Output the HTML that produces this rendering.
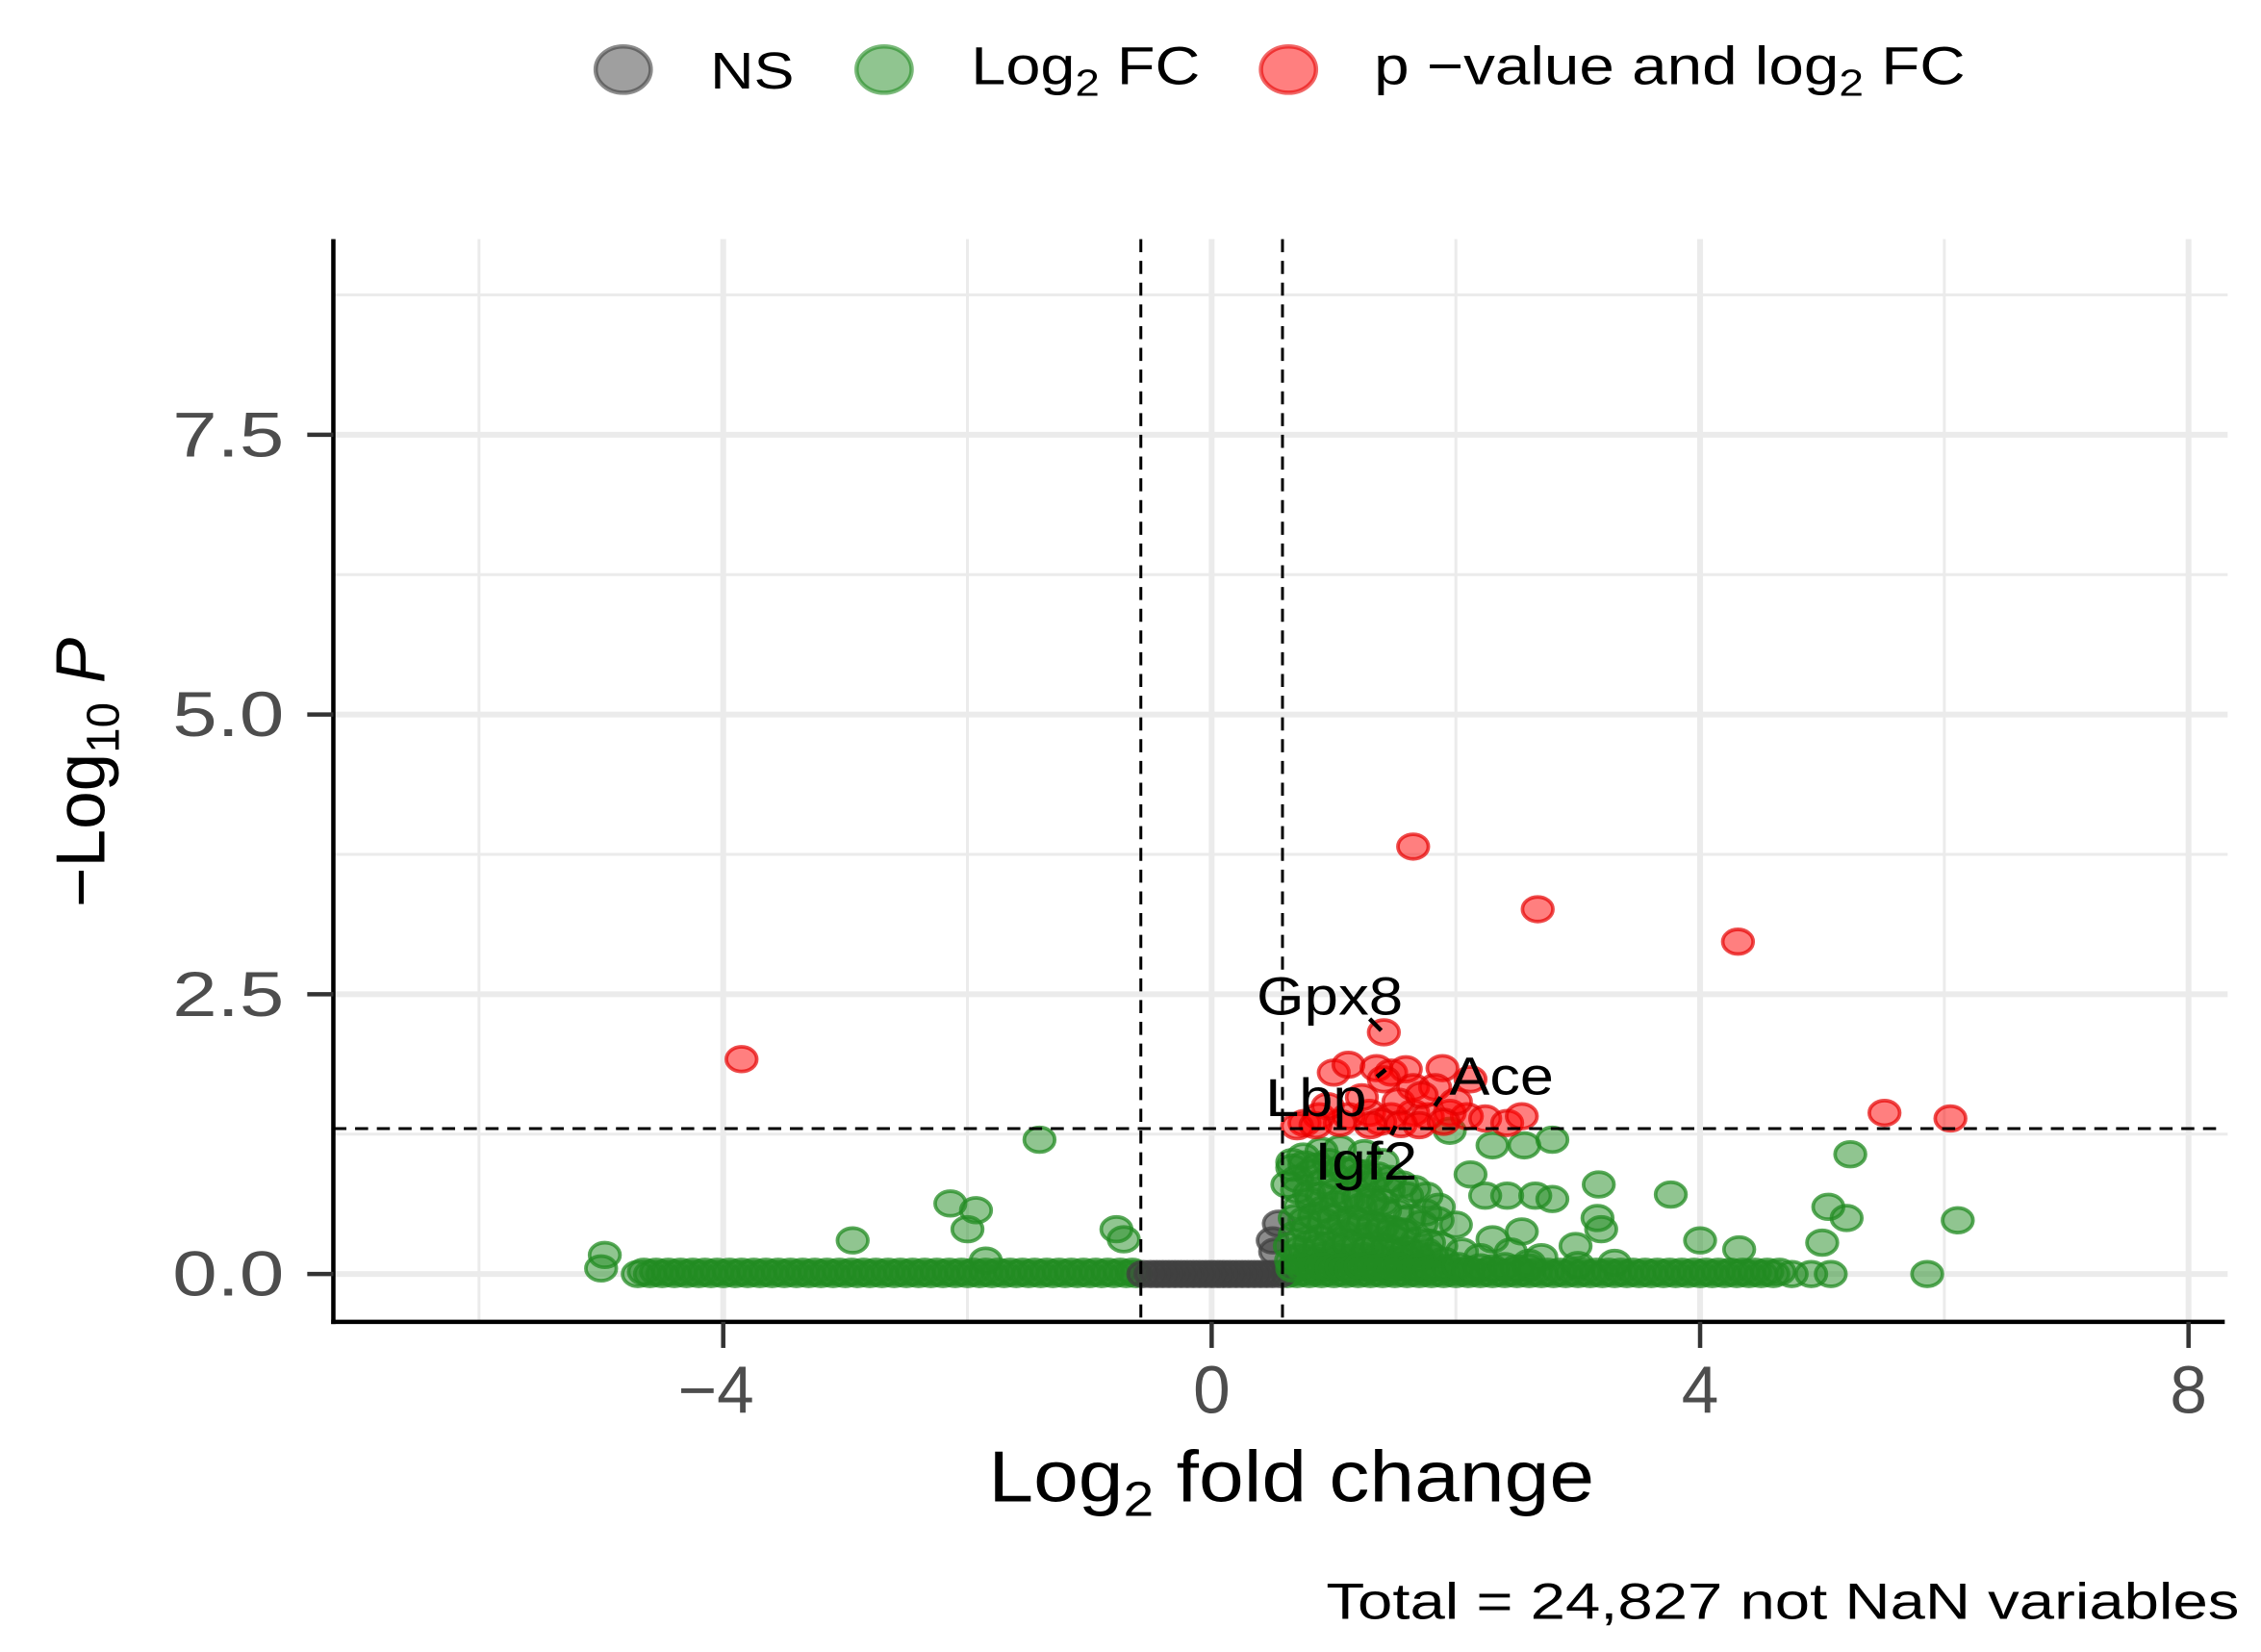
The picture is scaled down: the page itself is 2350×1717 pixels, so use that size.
<!DOCTYPE html>
<html><head><meta charset="utf-8"><style>
html,body{margin:0;padding:0;background:#fff}
svg{display:block}
text{font-family:"Liberation Sans",Arial,sans-serif}
</style></head><body>
<svg id="chart" width="2350" height="1717" viewBox="0 0 1560 1139.8" preserveAspectRatio="none" xmlns="http://www.w3.org/2000/svg">
<g id="grid"></g>
<g id="pts"></g>
<g id="axes"></g>
<g>
 <ellipse cx="430" cy="48" rx="19" ry="16" fill="rgba(64,64,64,0.5)" stroke="rgba(64,64,64,0.6)" stroke-width="3"/>
 <text x="490" y="61" font-size="36" textLength="58" lengthAdjust="spacingAndGlyphs">NS</text>
 <ellipse cx="610" cy="48" rx="19" ry="16" fill="rgba(34,139,34,0.5)" stroke="rgba(34,139,34,0.6)" stroke-width="3"/>
 <text x="670" y="58" font-size="37" textLength="158" lengthAdjust="spacingAndGlyphs">Log<tspan font-size="26" dy="8">2</tspan><tspan dy="-8"> FC</tspan></text>
 <ellipse cx="889" cy="48" rx="19" ry="16" fill="rgba(255,0,0,0.5)" stroke="rgba(230,0,0,0.6)" stroke-width="3"/>
 <text x="948" y="58" font-size="37" textLength="408" lengthAdjust="spacingAndGlyphs">p −value and log<tspan font-size="26" dy="8">2</tspan><tspan dy="-8"> FC</tspan></text>
</g>
<text x="682" y="1036" font-size="50" textLength="418" lengthAdjust="spacingAndGlyphs">Log<tspan font-size="34" dy="10">2</tspan><tspan dy="-10"> fold change</tspan></text>
<text transform="translate(72,626) rotate(-90)" font-size="48" textLength="186" lengthAdjust="spacingAndGlyphs">−Log<tspan font-size="32" dy="10">10</tspan><tspan dy="-10" font-style="italic"> P</tspan></text>
<text x="915" y="1117" font-size="35" textLength="630" lengthAdjust="spacingAndGlyphs">Total = 24,827 not NaN variables</text>
<g font-size="37">
 <text x="867" y="700" textLength="101" lengthAdjust="spacingAndGlyphs">Gpx8</text>
 <line x1="945" y1="703" x2="953" y2="711" stroke="#000" stroke-width="3"/>
 <text x="873" y="770" textLength="70" lengthAdjust="spacingAndGlyphs">Lbp</text>
 <line x1="950" y1="743" x2="956" y2="738" stroke="#000" stroke-width="3"/>
 <text x="1000" y="755" textLength="72" lengthAdjust="spacingAndGlyphs">Ace</text>
 <line x1="990" y1="763" x2="994" y2="757" stroke="#000" stroke-width="3"/>
 <text x="907" y="814" textLength="71" lengthAdjust="spacingAndGlyphs">Igf2</text>
 <line x1="960" y1="783" x2="963" y2="777" stroke="#000" stroke-width="3"/>
</g>
</svg>
<script>
const xTicks = [-4, 0, 4, 8];
const xTickLabels = ["−4", "0", "4", "8"];
const xMinor = [-6, -2, 2, 6];
const yTicks = [0, 2.5, 5, 7.5];
const yTickLabels = ["0.0", "2.5", "5.0", "7.5"];
const yMinor = [1.25, 3.75, 6.25, 8.75];
const fcCut = 0.58;
const pCut = 1.3;

const redX = [1.65,2.67,4.31,-3.85,5.51,6.05,1.41,1.0,1.12,1.35,1.47,1.59,1.89,1.41,1.65,1.83,0.76,0.88,1.12,1.29,1.47,1.65,1.77,1.95,2.09,2.24,2.42,2.54,2.0,1.53,1.23,2.12,1.05,1.38,0.95,1.72,0.7,1.55,1.3,1.7,1.9,0.85];
const redY = [3.82,3.26,2.97,1.92,1.44,1.39,2.16,1.8,1.87,1.84,1.8,1.83,1.84,1.74,1.67,1.67,1.35,1.41,1.41,1.44,1.41,1.44,1.41,1.44,1.41,1.39,1.35,1.41,1.54,1.54,1.58,1.74,1.35,1.36,1.5,1.6,1.32,1.34,1.33,1.33,1.36,1.33];

const greenX = [-4.97,-5.0,-1.41,-2.14,-1.93,-2.0,-2.94,-1.85,-0.78,-0.72,5.23,5.05,5.2,6.11,5.0,5.86,3.76,3.17,3.16,3.19,4.0,4.32,2.98,2.79,2.56,2.3,1.95,2.12,2.42,2.65,2.79,2.24,2.54,2.3,2.0,4.91,5.07,
0.65,0.7,0.75,0.8,0.85,0.9,0.95,1.0,1.05,1.1,1.15,1.2,1.25,1.3,1.35,1.4,1.45,1.5,1.55,1.6,1.65,1.7,1.8,1.9,
0.68,0.78,0.88,0.98,1.08,1.18,1.28,1.38,1.48,1.58,1.68,1.78,1.88,
0.72,0.82,0.92,1.02,1.12,1.22,1.32,1.42,1.52,1.62,1.72,
0.7,0.8,0.9,1.0,1.1,1.2,1.3,1.45,1.6,
0.75,0.9,1.05,1.25,1.4,
2.2,2.45,2.6,1.75,1.85,2.05,3.0,3.3,2.7,0.62,0.66,
0.64,0.72,0.8,0.88,0.96,1.04,1.12,1.2,1.28,1.36,1.44,1.52,1.6,1.68,1.76,
0.66,0.74,0.82,0.9,0.98,1.06,1.14,1.22,1.3,1.38,1.46,1.54,1.62,1.7,1.78,1.86,1.94,2.02,2.1,2.2,2.3,2.4,2.5,2.6,
0.68,0.76,0.84,0.92,1.0,1.08,1.16,1.24,1.32,1.4,1.48,1.56,
0.7,0.8,0.9,1.0,1.1,1.2,1.3,1.4,
0.66,0.76,0.86,0.96,1.06,1.16,1.26,1.36,1.46,1.56,1.66,1.76,1.86];
const greenY = [0.17,0.05,1.2,0.63,0.57,0.4,0.3,0.12,0.4,0.31,1.07,0.6,0.5,0.48,0.28,0.0,0.71,0.8,0.5,0.4,0.3,0.22,0.25,1.2,1.15,1.15,1.28,0.89,0.7,0.7,0.67,0.7,0.38,0.31,0.44,0.0,0.0,
0.12,0.15,0.1,0.14,0.12,0.16,0.1,0.13,0.15,0.11,0.14,0.12,0.16,0.1,0.15,0.12,0.14,0.1,0.13,0.15,0.12,0.14,0.16,0.12,
0.35,0.4,0.32,0.38,0.36,0.42,0.34,0.39,0.33,0.37,0.3,0.28,0.25,
0.6,0.65,0.58,0.62,0.66,0.6,0.64,0.57,0.55,0.5,0.45,
0.85,0.9,0.82,0.88,0.92,0.86,0.8,0.75,0.7,
1.05,1.1,1.12,1.08,1.0,
0.15,0.2,0.1,0.55,0.48,0.2,0.08,0.1,0.15,0.8,1.0,
0.25,0.22,0.27,0.24,0.26,0.23,0.28,0.25,0.22,0.26,0.24,0.2,0.22,0.18,0.2,
0.05,0.06,0.04,0.07,0.05,0.06,0.04,0.07,0.05,0.06,0.04,0.07,0.05,0.06,0.04,0.06,0.05,0.07,0.04,0.06,0.05,0.07,0.05,0.06,
0.5,0.48,0.52,0.47,0.5,0.46,0.49,0.45,0.44,0.42,0.4,0.38,
0.75,0.72,0.7,0.73,0.7,0.68,0.66,0.64,
0.95,0.98,0.96,1.0,0.94,0.92,0.9,0.88,0.85,0.8,0.76,0.7,0.6];

const bandNegX = [-4.7,-4.6,-4.5,-4.4,-4.3,-4.2,-4.1,-4.0,-3.9,-3.8,-3.7,-3.6,-3.5,-3.4,-3.3,-3.2,-3.1,-3.0,-2.9,-2.8,-2.7,-2.6,-2.5,-2.4,-2.3,-2.2,-2.1,-2.0,-1.9,-1.8,-1.7,-1.6,-1.5,-1.4,-1.3,-1.2,-1.1,-1.0,-0.9,-0.8,-0.7,-0.62];
const bandPosX = [0.62,0.7,0.8,0.9,1.0,1.1,1.2,1.3,1.4,1.5,1.6,1.7,1.8,1.9,2.0,2.1,2.2,2.3,2.4,2.5,2.6,2.7,2.8,2.9,3.0,3.1,3.2,3.3,3.4,3.5,3.6,3.7,3.8,3.9,4.0,4.1,4.2,4.3,4.4,4.5,4.6,4.75];
const bandNegX2 = [-4.65,-4.55,-4.45,-4.35,-4.25,-4.15,-4.05,-3.95,-3.85,-3.75,-3.65,-3.55,-3.45,-3.35,-3.25,-3.15,-3.05,-2.95,-2.85,-2.75,-2.65,-2.55,-2.45,-2.35,-2.25,-2.15,-2.05,-1.95,-1.85,-1.75,-1.65,-1.55,-1.45,-1.35,-1.25,-1.15,-1.05,-0.95,-0.85,-0.75,-0.65];
const bandPosX2 = [0.65,0.75,0.85,0.95,1.05,1.15,1.25,1.35,1.45,1.55,1.65,1.75,1.85,1.95,2.05,2.15,2.25,2.35,2.45,2.55,2.65,2.75,2.85,2.95,3.05,3.15,3.25,3.35,3.45,3.55,3.65,3.75,3.85,3.95,4.05,4.15,4.25,4.35,4.45,4.55,4.65];
const nsX = [-0.56,-0.5,-0.45,-0.4,-0.35,-0.3,-0.25,-0.2,-0.15,-0.1,-0.05,0.0,0.05,0.1,0.15,0.2,0.25,0.3,0.35,0.4,0.45,0.5,0.56,0.5,0.55,0.52];
const nsY = [0,0,0,0,0,0,0,0,0,0,0,0,0,0,0,0,0,0,0,0,0,0,0,0.3,0.45,0.2];

const X = v => 836 + 84.25 * v;
const Y = v => 879 - 77.2 * v;
const NS = "http://www.w3.org/2000/svg";
const L = 230, R = 1537, T = 165, B = 912;

function mk(tag, attrs, parent) {
  const e = document.createElementNS(NS, tag);
  for (const k in attrs) e.setAttribute(k, attrs[k]);
  parent.appendChild(e);
  return e;
}
const grid = document.getElementById('grid');
const axes = document.getElementById('axes');
const pts = document.getElementById('pts');

xMinor.forEach(v => {
  const l = mk('line', {x1: X(v), x2: X(v), y1: T, y2: B, stroke: '#ebebeb', 'stroke-width': 2}, grid);
  
  
});
yMinor.forEach(v => {
  const l = mk('line', {x1: L, x2: R, y1: Y(v), y2: Y(v), stroke: '#ebebeb', 'stroke-width': 2}, grid);
  
  
});
xTicks.forEach(v => {
  const l = mk('line', {x1: X(v), x2: X(v), y1: T, y2: B, stroke: '#ebebeb', 'stroke-width': 4}, grid);
  
  
});
yTicks.forEach(v => {
  const l = mk('line', {x1: L, x2: R, y1: Y(v), y2: Y(v), stroke: '#ebebeb', 'stroke-width': 4}, grid);
  
  
});

function dot(x, y, fill, stroke, name) {
  const e = mk('ellipse', {cx: X(x), cy: Y(y), rx: 10.5, ry: 8.5, fill: fill, stroke: stroke, 'stroke-width': 2.5}, pts);
  
  
}
const gF = 'rgba(34,139,34,0.5)', gS = 'rgba(34,139,34,0.75)';
bandNegX.forEach(x => dot(x, 0, gF, gS, 'point-log2fc'));
bandPosX.forEach(x => dot(x, 0, gF, gS, 'point-log2fc'));
bandNegX2.forEach(x => dot(x, 0.02, gF, gS, 'point-log2fc'));
bandPosX2.forEach(x => dot(x, 0.02, gF, gS, 'point-log2fc'));
nsX.forEach((x, i) => dot(x, nsY[i], 'rgba(64,64,64,0.6)', 'rgba(64,64,64,0.75)', 'point-ns'));
greenX.forEach((x, i) => dot(x, greenY[i], gF, gS, 'point-log2fc'));
redX.forEach((x, i) => dot(x, redY[i], 'rgba(255,0,0,0.5)', 'rgba(230,0,0,0.7)', 'point-significant'));

[-fcCut, fcCut].forEach(v => {
  const l = mk('line', {x1: X(v), x2: X(v), y1: T, y2: B, stroke: '#000', 'stroke-width': 2, 'stroke-dasharray': '9,6'}, axes);
  
  
});
{
  const l = mk('line', {x1: L, x2: 1535, y1: Y(pCut), y2: Y(pCut), stroke: '#000', 'stroke-width': 2, 'stroke-dasharray': '9,6'}, axes);
  
  
}
{
  const a = mk('line', {x1: L, x2: L, y1: T, y2: B + 1.5, stroke: '#000', 'stroke-width': 3}, axes);
  
  
  const b = mk('line', {x1: L - 1.5, x2: 1535, y1: B, y2: B, stroke: '#000', 'stroke-width': 3}, axes);
  
  
}
xTicks.forEach((v, i) => {
  const t = mk('line', {x1: X(v), x2: X(v), y1: B, y2: B + 18, stroke: '#333', 'stroke-width': 3}, axes);
  
  
  const tx = mk('text', {x: X(v) - (i === 0 ? 5 : 0), y: 975, 'font-size': 46, fill: '#4d4d4d', 'text-anchor': 'middle'}, axes);
  tx.textContent = xTickLabels[i];
  
  
});
yTicks.forEach((v, i) => {
  const t = mk('line', {x1: L - 18, x2: L, y1: Y(v), y2: Y(v), stroke: '#333', 'stroke-width': 3}, axes);
  
  
  const tx = mk('text', {x: 196, y: Y(v) + 15, 'font-size': 44, fill: '#4d4d4d', 'text-anchor': 'end', textLength: 77, lengthAdjust: 'spacingAndGlyphs'}, axes);
  tx.textContent = yTickLabels[i];
  
  
});
</script>
</body></html>
